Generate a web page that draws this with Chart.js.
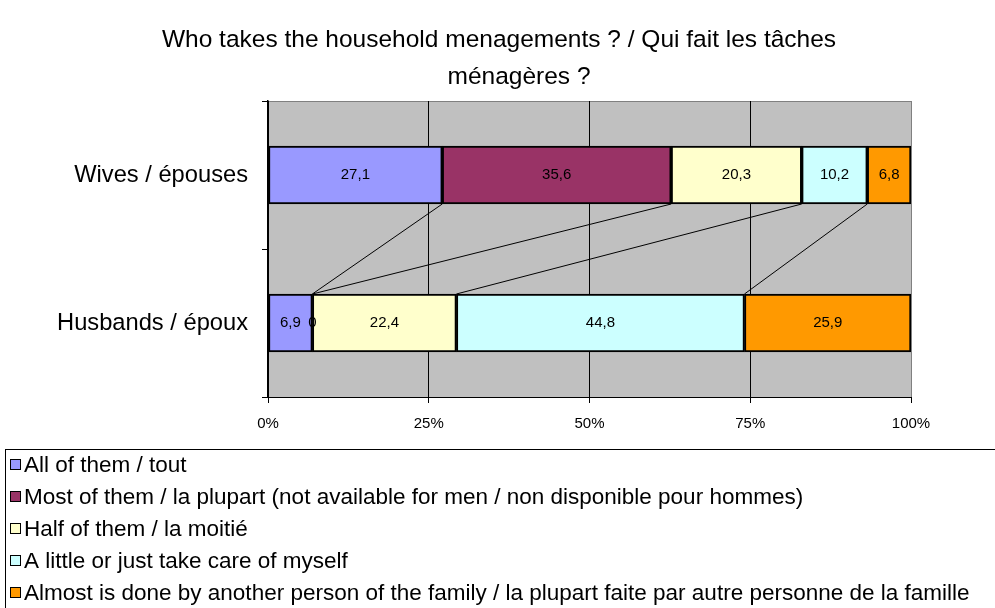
<!DOCTYPE html>
<html>
<head>
<meta charset="utf-8">
<script src="https://cdn.jsdelivr.net/npm/chart.js@4"></script>
<style>
  body { margin: 0; background: #fff; }
  #wrap { width: 995px; height: 608px; }
</style>
</head>
<body>
<div id="wrap"><canvas id="houseChart" width="995" height="608"></canvas></div>
<script>
// data
const categories = ['Wives / épouses', 'Husbands / époux'];
const seriesNames = [
    'All of them / tout',
    'Most of them / la plupart (not available for men / non disponible pour hommes)',
    'Half of them / la moitié',
    'A little or just take care of myself',
    'Almost is done by another person of the family / la plupart faite par autre personne de la famille'
];
const allOfThem = [27.1, 6.9];
const mostOfThem = [35.6, 0];
const halfOfThem = [20.3, 22.4];
const aLittle = [10.2, 44.8];
const almostOther = [6.8, 25.9];
const xTicks = [0, 25, 50, 75, 100];

const colors = ['#9999FF', '#993366', '#FFFFCC', '#CCFFFF', '#FF9900'];
const FONT = "'Liberation Sans', Arial, sans-serif";

const titleLines = ['Who takes the household menagements ? / Qui fait les tâches', 'ménagères ?'];

function fmt(v) {
    return String(v).replace('.', ',');
}

// gray plot background + border
const plotBackground = {
    id: 'plotBackground',
    beforeDraw(chart) {
        const { ctx, chartArea: a } = chart;
        ctx.save();
        ctx.fillStyle = '#C0C0C0';
        ctx.fillRect(a.left, a.top, a.right - a.left, a.bottom - a.top);
        ctx.strokeStyle = '#808080';
        ctx.lineWidth = 1;
        ctx.beginPath();
        ctx.moveTo(a.left, a.top + 0.5);
        ctx.lineTo(a.right + 0.5, a.top + 0.5);
        ctx.lineTo(a.right + 0.5, a.bottom);
        ctx.stroke();
        ctx.restore();
    }
};

// series lines between the two bars + value labels
const barExtras = {
    id: 'barExtras',
    afterDatasetsDraw(chart) {
        const ctx = chart.ctx;
        ctx.save();
        ctx.strokeStyle = '#000';
        ctx.lineWidth = 1;
        const n = chart.data.datasets.length;
        for (let d = 0; d < n - 1; d++) {
            const els = chart.getDatasetMeta(d).data;
            const a = els[0], b = els[1];
            ctx.beginPath();
            ctx.moveTo(a.x, a.y + a.height / 2);
            ctx.lineTo(b.x, b.y - b.height / 2);
            ctx.stroke();
        }
        ctx.fillStyle = '#000';
        ctx.font = '15px ' + FONT;
        ctx.textAlign = 'center';
        ctx.textBaseline = 'middle';
        chart.data.datasets.forEach((ds, d) => {
            chart.getDatasetMeta(d).data.forEach((el, i) => {
                ctx.fillText(fmt(ds.data[i]), (el.x + el.base) / 2, el.y);
            });
        });
        ctx.restore();
    }
};

// title + boxed legend
const textParts = {
    id: 'textParts',
    afterDraw(chart) {
        const ctx = chart.ctx;
        ctx.save();
        ctx.fillStyle = '#000';
        ctx.font = '24.5px ' + FONT;
        ctx.textAlign = 'center';
        ctx.textBaseline = 'middle';
        ctx.fillText(titleLines[0], 499, 40);
        ctx.fillText(titleLines[1], 519, 77);

        ctx.strokeStyle = '#000';
        ctx.lineWidth = 1;
        ctx.strokeRect(5.5, 449.5, 1000, 200);
        ctx.font = '22.5px ' + FONT;
        ctx.textAlign = 'left';
        chart.data.datasets.forEach((ds, i) => {
            const y = 465 + i * 32;
            ctx.fillStyle = ds.backgroundColor;
            ctx.fillRect(10, y - 6, 11, 11);
            ctx.strokeRect(10.5, y - 5.5, 10, 10);
            ctx.fillStyle = '#000';
            ctx.fillText(ds.label, 24, y + 1);
        });
        ctx.restore();
    }
};

const seriesData = [allOfThem, mostOfThem, halfOfThem, aLittle, almostOther];

new Chart(document.getElementById('houseChart').getContext('2d'), {
    type: 'bar',
    data: {
        labels: categories,
        datasets: seriesData.map((vals, i) => ({
            label: seriesNames[i],
            data: vals,
            backgroundColor: colors[i],
            borderColor: '#000',
            borderWidth: 2,
            borderSkipped: false,
            barThickness: 58
        }))
    },
    options: {
        indexAxis: 'y',
        responsive: false,
        animation: false,
        layout: { padding: { top: 101, right: 84, bottom: 171, left: 0 } },
        plugins: {
            legend: { display: false },
            title: { display: false },
            tooltip: { enabled: false }
        },
        scales: {
            x: {
                stacked: true,
                min: 0,
                max: 100,
                afterBuildTicks(scale) { scale.ticks = xTicks.map(v => ({ value: v })); },
                afterFit(scale) { scale.height = 40; },
                ticks: {
                    callback: v => v + '%',
                    color: '#000',
                    font: { family: FONT, size: 15 },
                    padding: 12,
                    maxRotation: 0
                },
                grid: {
                    color: c => (c.tick && c.tick.value === 100) ? '#808080' : '#000',
                    tickColor: '#000',
                    tickLength: 6,
                    lineWidth: 1
                },
                border: { display: true, color: '#000', width: 1 }
            },
            y: {
                stacked: true,
                afterFit(scale) { scale.width = 268; },
                ticks: {
                    color: '#000',
                    font: { family: FONT, size: 23.7 },
                    padding: 14
                },
                grid: {
                    drawOnChartArea: false,
                    tickColor: '#000',
                    tickLength: 6
                },
                border: { display: true, color: '#000', width: 1.5 }
            }
        }
    },
    plugins: [plotBackground, barExtras, textParts]
});
</script>
</body>
</html>
